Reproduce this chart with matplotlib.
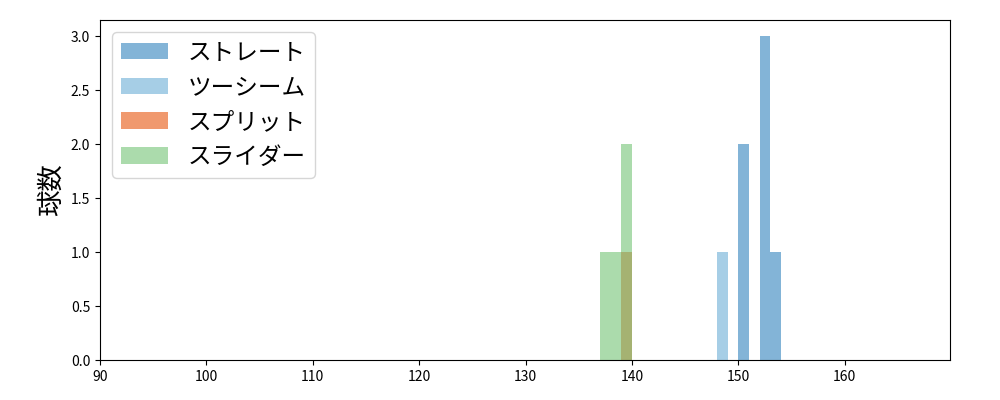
import numpy as np
import matplotlib.pyplot as plt

plt.rcParams['font.family'] = ['Noto Sans CJK JP', 'DejaVu Sans']

# Pitch types and histogram data (bin edges in km/h, counts per bin)
labels = ['ストレート', 'ツーシーム', 'スプリット', 'スライダー']
colors = ['#3182bd', '#6baed6', '#e6550d', '#74c476']

straight_edges = [150, 151, 152, 153, 154]
straight_counts = [2, 0, 3, 1]
twoseam_edges = [148, 149]
twoseam_counts = [1]
split_edges = [139, 140]
split_counts = [1]
slider_edges = [137, 139, 140]
slider_counts = [1, 2]

edges = [straight_edges, twoseam_edges, split_edges, slider_edges]
counts = [straight_counts, twoseam_counts, split_counts, slider_counts]

fig, ax = plt.subplots(figsize=(10, 4), dpi=100)
fig.subplots_adjust(left=0.1, right=0.95, top=0.95, bottom=0.1)

for e, c, lab, col in zip(edges, counts, labels, colors):
    e = np.array(e)
    ax.hist(e[:-1], bins=e, weights=c, color=col, alpha=0.6, label=lab)

ax.set_xlim(90, 169.9)
ax.set_ylim(0, 3.15)
ax.set_ylabel('球数', fontsize=19)
ax.legend(loc='upper left', fontsize=17)

fig.savefig('out.png')
